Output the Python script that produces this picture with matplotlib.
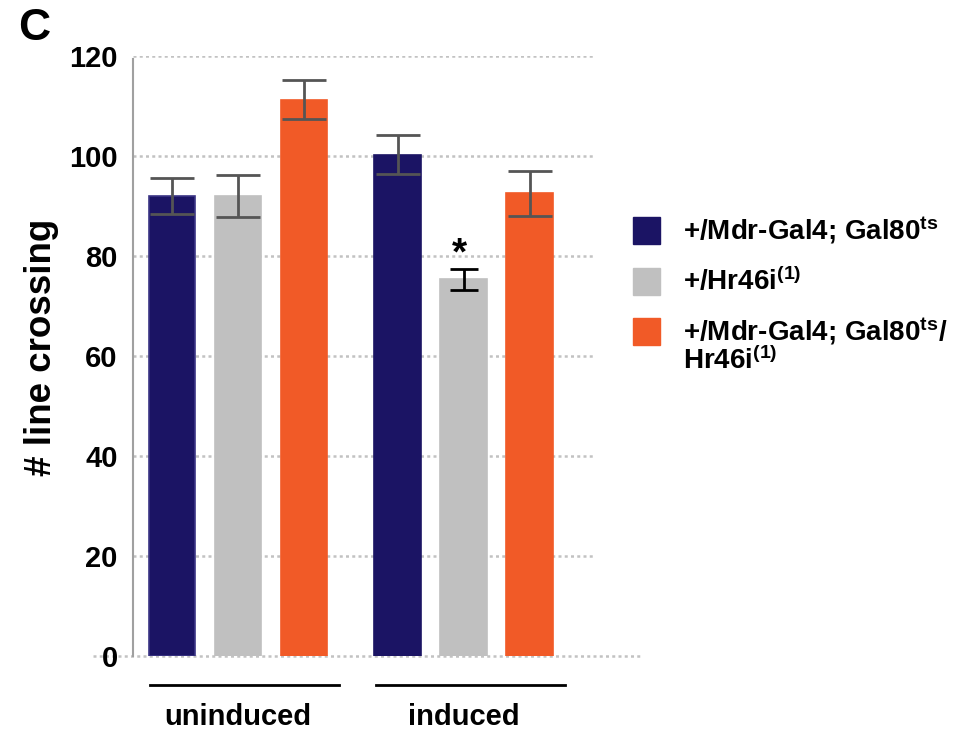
import numpy as np
import matplotlib
matplotlib.use("Agg")
import matplotlib.pyplot as plt
from matplotlib.patches import Rectangle

plt.rcParams['font.family'] = ['Liberation Sans', 'DejaVu Sans']
plt.rcParams['font.weight'] = 'bold'
plt.rcParams['mathtext.fontset'] = 'custom'
plt.rcParams['mathtext.rm'] = 'Liberation Sans:bold'
plt.rcParams['mathtext.bf'] = 'Liberation Sans:bold'
plt.rcParams['mathtext.it'] = 'Liberation Sans:bold'

# data
groups = ["uninduced", "induced"]
genotypes = [r"+/Mdr-Gal4; Gal80$^{\rm ts}$",
             r"+/Hr46i$^{\rm (1)}$",
             r"+/Mdr-Gal4; Gal80$^{\rm ts}$/" + "\n" + r"Hr46i$^{\rm (1)}$"]
colors = ["#1b1464", "#c0c0c0", "#f15a27"]
means_uninduced = [92.0, 92.0, 111.3]
err_uninduced = [3.6, 4.2, 3.9]
means_induced = [100.3, 75.4, 92.6]
err_induced = [3.9, 2.1, 4.5]
yticks = [0, 20, 40, 60, 80, 100, 120]

means = [means_uninduced, means_induced]
errs = [err_uninduced, err_induced]
group_start = [0, 3.42]

fig = plt.figure(figsize=(9.68, 7.33), dpi=100)
ax = fig.add_axes([0.1374, 0.1050, 0.4773, 0.8186])

# dotted grid
dots = (0, (1.2, 1.3))
for v in yticks[1:]:
    ax.axhline(v, color="#c2c2c2", lw=1.8, ls=dots, zorder=1)
ax.axhline(0, xmin=-0.087, xmax=1.104, color="#c2c2c2", lw=1.8, ls=dots,
           zorder=1, clip_on=False)

for g in range(2):
    xs = group_start[g] + np.arange(3)
    for i in range(3):
        edge = "#3b3585" if (g == 0 and i == 0) else colors[i]
        ax.bar(xs[i], means[g][i], width=0.71, color=colors[i],
               edgecolor=edge, linewidth=1.2, zorder=3)
        # the significant one has a black bar and narrower cap
        sig = (g == 1 and i == 1)
        ax.errorbar(xs[i], means[g][i], yerr=errs[g][i],
                    color="black" if sig else "#555555",
                    lw=2, capsize=10 if sig else 16, capthick=2, zorder=4)
    ax.plot([xs[0] - 0.33, xs[2] + 0.53], [-5.8, -5.8], color="black",
            lw=2, clip_on=False)
    ax.text(xs[1], -12.2, groups[g], ha="center", va="center",
            fontsize=21, fontweight="bold")

# asterisk above induced Hr46i
ax.text(group_start[1] + 0.93, means_induced[1] + err_induced[1] + 0.8, "*",
        ha="center", va="baseline", fontsize=28, fontweight="bold")

ax.set_xlim(-0.59, 6.41)
ax.set_ylim(0, 120)
ax.set_yticks(yticks)
ax.set_yticklabels([str(v) for v in yticks], fontsize=21, fontweight="bold")
ax.tick_params(axis="y", length=0, pad=11)
ax.set_xticks([])
for s in ["top", "right", "bottom"]:
    ax.spines[s].set_visible(False)
ax.spines["left"].set_color("#a0a0a0")
ax.spines["left"].set_linewidth(1.5)
ax.spines["left"].set_bounds(0, 119.4)

ax.set_ylabel("# line crossing", fontsize=26.5, fontweight="bold", va="center")
ax.yaxis.set_label_coords(-0.199, 0.515)

# legend
W, H = 968, 733
for i, lab in enumerate(genotypes):
    top = 217 + i * 50.7
    fig.add_artist(Rectangle((633 / W, 1 - (top + 27) / H), 27 / W, 27 / H,
                             transform=fig.transFigure, color=colors[i]))
    for j, line in enumerate(lab.split("\n")):
        fig.text(683 / W, 1 - (top + 22 + j * 29) / H, line, ha="left",
                 va="baseline", fontsize=20, fontweight="bold")

fig.text(18 / W, 1 - 29 / H, "C", ha="left", va="center", fontsize=32,
         fontweight="bold")

fig.savefig("out.png", dpi=100)
